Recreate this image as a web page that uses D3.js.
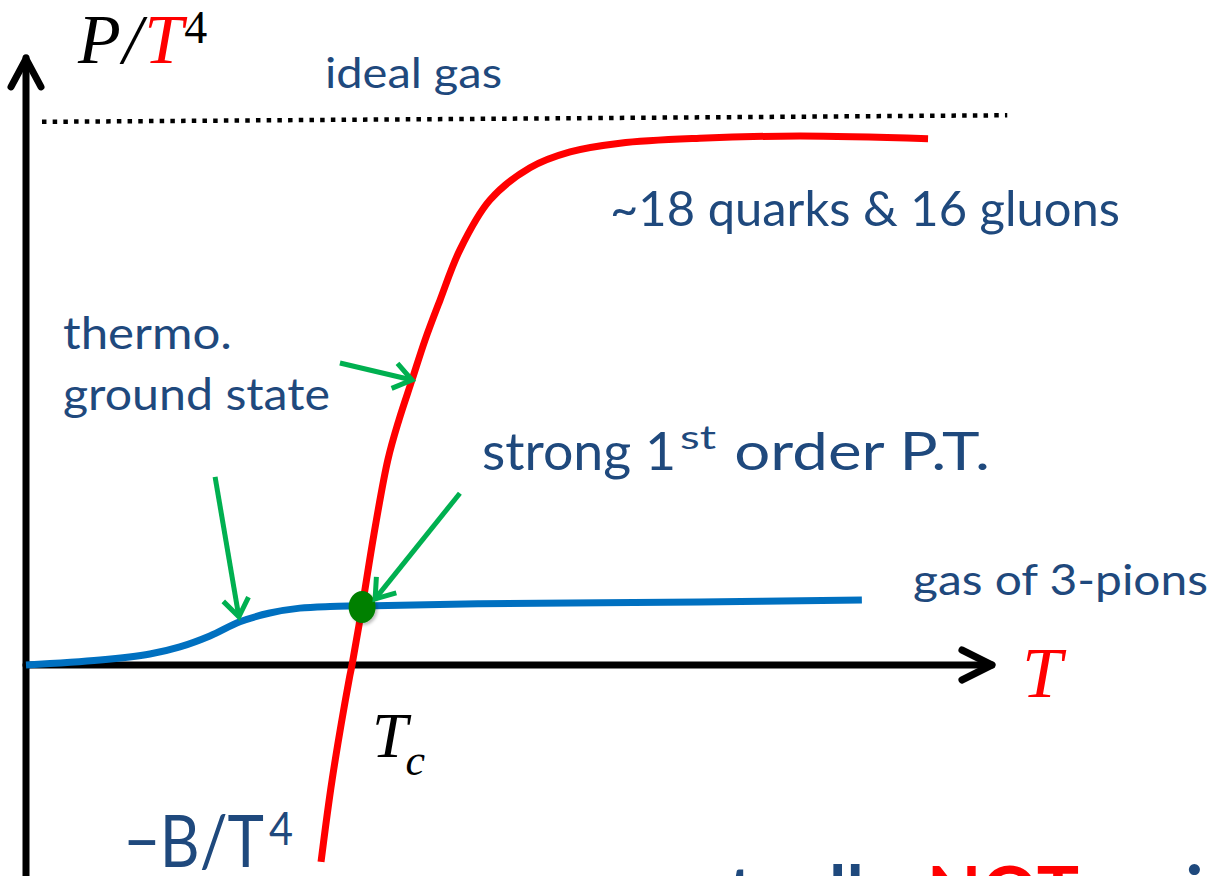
<!DOCTYPE html>
<html><head><meta charset="utf-8">
<script src="https://cdn.jsdelivr.net/npm/d3@7"></script>
<style>
html,body{margin:0;padding:0;background:#fff;overflow:hidden}
svg{display:block}
</style></head><body>
<svg id="chart" width="1212" height="876"></svg>
<script>
// Temperature in units of Tc, pressure P/T^4 in units of the ideal-gas limit.
// Quark-gluon phase (red)
const qgpT = [0.905, 0.939, 0.991, 1.000, 1.031, 1.067, 1.110, 1.144, 1.184, 1.224, 1.270, 1.331, 1.423, 1.546, 1.669, 1.822, 2.067, 2.374, 2.767];
const qgpP = [-0.360, -0.210, -0.027, 0.000, 0.106, 0.238, 0.375, 0.448, 0.521, 0.594, 0.667, 0.759, 0.850, 0.909, 0.938, 0.954, 0.963, 0.967, 0.962];
// Pion gas phase (blue)
const pionT = [0.000, 0.227, 0.380, 0.472, 0.564, 0.656, 0.748, 0.840, 0.933, 1.031, 1.393, 2.067, 2.564];
const pionP = [0.000, 0.009, 0.020, 0.033, 0.053, 0.079, 0.095, 0.104, 0.107, 0.108, 0.112, 0.115, 0.119];
// Stefan-Boltzmann limit (dotted)
const idealT = [0.049, 3.010];
const idealP = [0.993, 1.005];
// Transition point
const tcPoint = [1.031, 0.106];
// Green pointer arrows: [T0, P0, T1, P1]
const pointers = [
  [0.580, 0.344, 0.653, 0.088],
  [0.963, 0.552, 1.184, 0.521],
  [1.331, 0.314, 1.071, 0.121]
];
const labels = {
  ideal: "ideal gas",
  qgp: "~18 quarks & 16 gluons",
  ground: ["thermo.", "ground state"],
  pions: "gas of 3-pions",
  order: ["strong 1", "st", " order P.T."],
  bag: ["\u2212B/T", "4"],
  caption: ["actua", "lly", "NOT", "exist"]
};

const W = 1212, H = 876;
const svg = d3.select("#chart");
svg.append("rect").attr("width", W).attr("height", H).attr("fill", "#fff");

const x = d3.scaleLinear().domain([0, 3]).range([26, 1004]);
const y = d3.scaleLinear().domain([0, 1]).range([665, 118]);

const BLUE_TXT = "#1F497D", RED = "#FF0000", LINE_BLUE = "#0070C0", GREEN = "#00B050";
const SANS = "Lato, 'Open Sans', sans-serif";
const SERIF = "'Liberation Serif', 'DejaVu Serif', serif";

// Ideal gas limit
const line = d3.line().x(d => x(d[0])).y(d => y(d[1]));
svg.append("path")
  .attr("d", line(d3.zip(idealT, idealP)))
  .attr("fill", "none").attr("stroke", "#000")
  .attr("stroke-width", 4.5).attr("stroke-dasharray", "4.5 6.2");

// Axes with arrowheads
const g = svg.append("g").attr("stroke", "#000").attr("stroke-width", 7)
  .attr("fill", "none").attr("stroke-linecap", "round").attr("stroke-linejoin", "round");
const x0 = x(0), yTop = y(1.11), y0 = y(0), xEnd = x(2.963);
g.append("line").attr("x1", x0).attr("x2", x0).attr("y1", H + 10).attr("y2", yTop);
g.append("polyline").attr("points", [[x0 - 15, yTop + 29], [x0, yTop + 1], [x0 + 15, yTop + 29]].join(" "));
g.append("line").attr("x1", x0).attr("x2", xEnd).attr("y1", y0).attr("y2", y0);
g.append("polyline").attr("points", [[xEnd - 30, y0 - 15], [xEnd, y0], [xEnd - 30, y0 + 15]].join(" "));

// Phase curves
const smooth = d3.line().x(d => x(d[0])).y(d => y(d[1])).curve(d3.curveCatmullRom.alpha(0.5));
svg.append("path").attr("d", smooth(d3.zip(pionT, pionP)))
  .attr("fill", "none").attr("stroke", LINE_BLUE).attr("stroke-width", 7);
svg.append("path").attr("d", smooth(d3.zip(qgpT, qgpP)))
  .attr("fill", "none").attr("stroke", RED).attr("stroke-width", 7);

// Transition point
const defs = svg.append("defs");
const f = defs.append("filter").attr("id", "shadow").attr("x", "-50%").attr("y", "-50%").attr("width", "200%").attr("height", "200%");
f.append("feDropShadow").attr("dx", 2).attr("dy", 2).attr("stdDeviation", 1.5).attr("flood-color", "#000").attr("flood-opacity", 0.25);
svg.append("ellipse").attr("cx", x(tcPoint[0])).attr("cy", y(tcPoint[1]))
  .attr("rx", 13.5).attr("ry", 16).attr("fill", "#008000").attr("filter", "url(#shadow)");

// Pointer arrows
const ag = svg.append("g").attr("stroke", GREEN).attr("stroke-width", 5).attr("fill", "none")
  .attr("stroke-linecap", "butt").attr("stroke-linejoin", "miter");
pointers.forEach(([t0, p0, t1, p1]) => {
  const ax = x(t0), ay = y(p0), bx = x(t1), by = y(p1);
  const ang = Math.atan2(by - ay, bx - ax), L = 22, spread = 0.62;
  ag.append("line").attr("x1", ax).attr("y1", ay).attr("x2", bx).attr("y2", by);
  ag.append("polyline").attr("points", [
    [bx - L * Math.cos(ang - spread), by - L * Math.sin(ang - spread)],
    [bx, by],
    [bx - L * Math.cos(ang + spread), by - L * Math.sin(ang + spread)]
  ].join(" "));
});

// Axis titles
const yt = svg.append("text").attr("x", 78).attr("y", 63)
  .attr("font-family", SERIF).attr("font-size", 70).attr("fill", "#000");
yt.append("tspan").attr("font-style", "italic").text("P");
yt.append("tspan").attr("font-style", "italic").attr("dx", 2).text("/");
yt.append("tspan").attr("font-style", "italic").attr("fill", RED).attr("dx", 2).text("T");
yt.append("tspan").attr("font-size", 46).attr("dy", -20).attr("dx", 1).text("4");

svg.append("text").attr("x", 1022).attr("y", 697)
  .attr("font-family", SERIF).attr("font-size", 72).attr("font-style", "italic")
  .attr("fill", RED).text("T");

const tc = svg.append("text").attr("x", 372).attr("y", 757)
  .attr("font-family", SERIF).attr("font-size", 64).attr("font-style", "italic").attr("fill", "#000");
tc.append("tspan").text("T");
tc.append("tspan").attr("font-size", 44).attr("dy", 18).attr("dx", -2).text("c");

// Annotations, each fitted to its run width
const txt = (s, px, py, size, width) => svg.append("text").attr("x", px).attr("y", py)
  .attr("font-family", SANS).attr("font-size", size).attr("fill", BLUE_TXT)
  .attr("textLength", width).attr("lengthAdjust", "spacingAndGlyphs").text(s);
txt(labels.ideal, 325, 88, 42, 177);
txt(labels.qgp, 610, 226, 49, 510);
txt(labels.ground[0], 63, 349, 44, 169);
txt(labels.ground[1], 63, 410, 44, 267);
txt(labels.pions, 913, 595, 42, 295);

const st = svg.append("text").attr("y", 470)
  .attr("font-family", SANS).attr("font-size", 53).attr("fill", BLUE_TXT);
st.append("tspan").attr("x", 482).attr("textLength", 194).attr("lengthAdjust", "spacingAndGlyphs").text(labels.order[0]);
st.append("tspan").attr("x", 680).attr("font-size", 33).attr("dy", -21)
  .attr("textLength", 36).attr("lengthAdjust", "spacingAndGlyphs").text(labels.order[1]);
st.append("tspan").attr("x", 718).attr("dy", 21)
  .attr("textLength", 272).attr("lengthAdjust", "spacingAndGlyphs").text(labels.order[2]);

svg.append("text").attr("x", 124).attr("y", 867)
  .attr("font-family", SANS).attr("font-size", 71).attr("fill", BLUE_TXT)
  .attr("textLength", 140).attr("lengthAdjust", "spacingAndGlyphs").text(labels.bag[0]);
svg.append("text").attr("x", 269).attr("y", 845)
  .attr("font-family", SANS).attr("font-size", 46).attr("fill", BLUE_TXT)
  .attr("textLength", 24).attr("lengthAdjust", "spacingAndGlyphs").text(labels.bag[1]);

// Caption line below the plot (runs off the bottom edge)
const cap = svg.append("g").attr("font-family", SANS).attr("font-size", 70).attr("font-weight", 700);
const capY = 917;
cap.append("text").attr("x", 829).attr("y", capY).attr("text-anchor", "end").attr("fill", BLUE_TXT).text(labels.caption[0]);
cap.append("text").attr("x", 829).attr("y", capY).attr("fill", BLUE_TXT).text(labels.caption[1]);
cap.append("text").attr("x", 927).attr("y", capY).attr("fill", RED)
  .attr("textLength", 152).attr("lengthAdjust", "spacingAndGlyphs").text(labels.caption[2]);
cap.append("text").attr("x", 1112).attr("y", capY).attr("fill", BLUE_TXT).text(labels.caption[3]);
</script>
</body></html>
